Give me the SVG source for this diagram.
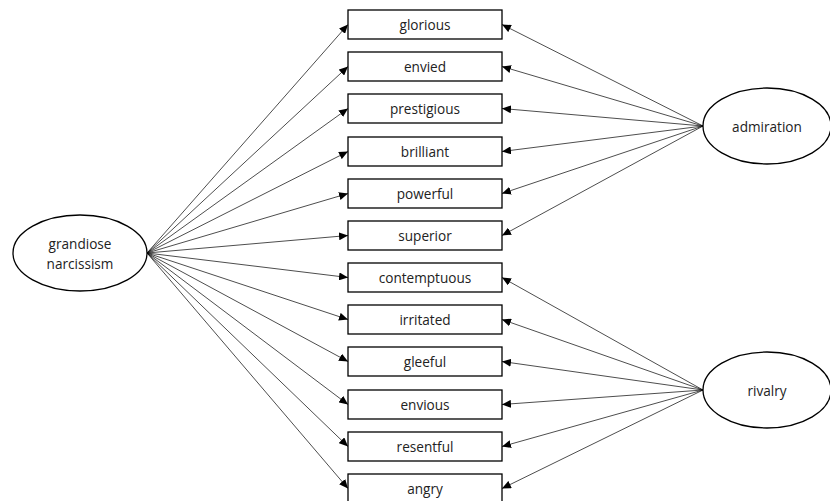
<svg xmlns="http://www.w3.org/2000/svg" width="830" height="501" viewBox="0 0 830 501">
<style>
.box{fill:#fff;stroke:#000;stroke-width:1.3}
.ell{fill:#fff;stroke:#000;stroke-width:1.3}
.t{font-family:"Open Sans","Liberation Sans",sans-serif;font-size:13.6px;fill:#222;text-anchor:middle;dominant-baseline:central}
.c line{stroke:#000;stroke-width:0.7;marker-end:url(#ah)}
</style>
<defs>
<marker id="ah" markerUnits="userSpaceOnUse" markerWidth="9" markerHeight="8" refX="9" refY="4" orient="auto"><path d="M0,0 L9,4 L0,8 z" fill="#000"/></marker>
</defs>
<rect width="830" height="501" fill="#fff"/>
<g class="c" id="connectors">
<line x1="147" y1="253" x2="348" y2="24.5"/>
<line x1="147" y1="253" x2="348" y2="66.5"/>
<line x1="147" y1="253" x2="348" y2="108.5"/>
<line x1="147" y1="253" x2="348" y2="151.5"/>
<line x1="147" y1="253" x2="348" y2="193.5"/>
<line x1="147" y1="253" x2="348" y2="235.5"/>
<line x1="147" y1="253" x2="348" y2="277.5"/>
<line x1="147" y1="253" x2="348" y2="319.5"/>
<line x1="147" y1="253" x2="348" y2="361.5"/>
<line x1="147" y1="253" x2="348" y2="404.5"/>
<line x1="147" y1="253" x2="348" y2="446.5"/>
<line x1="147" y1="253" x2="348" y2="488.5"/>
<line x1="703" y1="126" x2="502" y2="24.5"/>
<line x1="703" y1="126" x2="502" y2="66.5"/>
<line x1="703" y1="126" x2="502" y2="108.5"/>
<line x1="703" y1="126" x2="502" y2="151.5"/>
<line x1="703" y1="126" x2="502" y2="193.5"/>
<line x1="703" y1="126" x2="502" y2="235.5"/>
<line x1="703" y1="390" x2="502" y2="277.5"/>
<line x1="703" y1="390" x2="502" y2="319.5"/>
<line x1="703" y1="390" x2="502" y2="361.5"/>
<line x1="703" y1="390" x2="502" y2="404.5"/>
<line x1="703" y1="390" x2="502" y2="446.5"/>
<line x1="703" y1="390" x2="502" y2="488.5"/>
</g>
<g id="grandiose"><ellipse class="ell" cx="80" cy="253" rx="67" ry="38"/><text class="t" x="80" y="243">grandiose</text><text class="t" x="80" y="263">narcissism</text></g>
<g id="admiration"><ellipse class="ell" cx="767" cy="126" rx="64" ry="38"/><text class="t" x="767" y="126">admiration</text></g>
<g id="rivalry"><ellipse class="ell" cx="767" cy="390" rx="64" ry="38"/><text class="t" x="767" y="390">rivalry</text></g>
<g id="glorious"><rect class="box" x="348" y="10" width="154" height="29"/><text class="t" x="425" y="24.5">glorious</text></g>
<g id="envied"><rect class="box" x="348" y="52" width="154" height="29"/><text class="t" x="425" y="66.5">envied</text></g>
<g id="prestigious"><rect class="box" x="348" y="94" width="154" height="29"/><text class="t" x="425" y="108.5">prestigious</text></g>
<g id="brilliant"><rect class="box" x="348" y="137" width="154" height="29"/><text class="t" x="425" y="151.5">brilliant</text></g>
<g id="powerful"><rect class="box" x="348" y="179" width="154" height="29"/><text class="t" x="425" y="193.5">powerful</text></g>
<g id="superior"><rect class="box" x="348" y="221" width="154" height="29"/><text class="t" x="425" y="235.5">superior</text></g>
<g id="contemptuous"><rect class="box" x="348" y="263" width="154" height="29"/><text class="t" x="425" y="277.5">contemptuous</text></g>
<g id="irritated"><rect class="box" x="348" y="305" width="154" height="29"/><text class="t" x="425" y="319.5">irritated</text></g>
<g id="gleeful"><rect class="box" x="348" y="347" width="154" height="29"/><text class="t" x="425" y="361.5">gleeful</text></g>
<g id="envious"><rect class="box" x="348" y="390" width="154" height="29"/><text class="t" x="425" y="404.5">envious</text></g>
<g id="resentful"><rect class="box" x="348" y="432" width="154" height="29"/><text class="t" x="425" y="446.5">resentful</text></g>
<g id="angry"><rect class="box" x="348" y="474" width="154" height="29"/><text class="t" x="425" y="488.5">angry</text></g>
</svg>
